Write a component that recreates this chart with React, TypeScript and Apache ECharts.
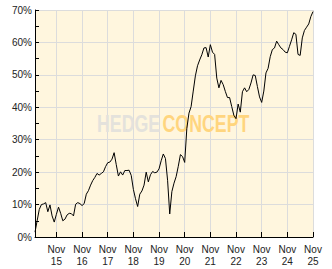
import React, { useEffect, useRef } from "react";
import * as echarts from "echarts";

// Monthly categories, Jan 2015 .. Nov 2025
const startYear = 2015;
const monthCount = 131;
const months: string[] = [];
for (let i = 0; i < monthCount; i++) {
  const y = startYear + Math.floor(i / 12);
  const m = (i % 12) + 1;
  months.push(`${y}-${m < 10 ? "0" + m : m}`);
}

// Cumulative performance in %
const perf: number[] = [
  1.5, 5.0, 8.5, 10.0, 10.2, 10.6, 7.8, 9.9, 6.5, 4.6, 7.0, 9.2,
  7.3, 5.0, 5.5, 6.8, 7.3, 7.2, 6.5, 10.1, 10.6, 10.3, 9.7, 10.3,
  13.2, 14.3, 16.0, 17.4, 18.4, 19.6, 19.1, 19.6, 20.1, 21.7, 22.9, 23.1,
  24.0, 26.0, 22.3, 18.8, 20.1, 19.1, 20.5, 20.5, 20.6, 19.0, 14.7, 11.8,
  9.4, 13.2, 14.2, 16.0, 20.0, 17.0, 19.2, 20.2, 19.8, 20.0, 21.0, 23.5,
  25.6, 24.2, 17.5, 7.1, 14.0, 16.6, 18.6, 21.8, 25.4, 24.8, 23.0, 33.5,
  38.2, 40.2, 45.0, 49.7, 52.8, 54.6, 56.2, 58.3, 58.4, 55.5, 59.3, 57.0,
  56.3, 49.0, 46.0, 48.3, 47.0, 44.9, 43.0, 43.0, 40.2, 37.5, 36.5, 41.0,
  38.5, 44.8, 46.0, 44.8, 45.5, 47.5, 50.0, 49.8, 46.4, 43.2, 41.5, 45.0,
  50.6, 52.0, 55.6, 57.8, 58.3, 60.4, 59.3, 58.3, 57.8, 57.0, 56.8, 58.8,
  60.8, 63.0, 62.5, 56.3, 56.0, 61.4, 63.7, 64.7, 65.7, 68.0, 69.5,
];

const yMin = 0;
const yMax = 70;
const yStep = 10;
const tickMonth = "-11"; // November
const watermarkA = "HEDGE";
const watermarkB = "CONCEPT";

const labelFont = "'Liberation Sans', Arial, sans-serif";

export default function App() {
  const ref = useRef<HTMLDivElement>(null);
  useEffect(() => {
    if (!ref.current) return;
    const chart = echarts.init(ref.current, undefined, { renderer: "svg" });
    const isNov = (_i: number, v: string) => v.endsWith(tickMonth);
    chart.setOption({
      animation: false,
      backgroundColor: "#ffffff",
      grid: {
        left: 35,
        right: 19,
        top: 10,
        bottom: 32,
        show: true,
        backgroundColor: "#FFF6DE",
        borderWidth: 0,
      },
      xAxis: {
        type: "category",
        data: months,
        boundaryGap: false,
        axisLine: { show: true, lineStyle: { color: "#000", width: 1 } },
        axisTick: {
          show: true,
          inside: true,
          length: 5,
          interval: isNov,
          lineStyle: { color: "#000" },
        },
        splitLine: {
          show: true,
          interval: isNov,
          lineStyle: { color: "#DCDCDC", width: 1 },
        },
        axisLabel: {
          interval: isNov,
          formatter: (v: string) => "Nov\n" + v.slice(2, 4),
          fontFamily: labelFont,
          fontSize: 10,
          lineHeight: 12,
          color: "#222",
          margin: 6,
        },
      },
      yAxis: {
        type: "value",
        min: yMin,
        max: yMax,
        interval: yStep,
        axisLine: { show: true, lineStyle: { color: "#000", width: 1 } },
        axisTick: { show: true, inside: true, length: 4, lineStyle: { color: "#000" } },
        minorTick: { show: true, splitNumber: 2, length: 4, lineStyle: { color: "#000" } },
        splitLine: { show: true, lineStyle: { color: "#DCDCDC", width: 1 } },
        axisLabel: {
          formatter: "{value}%",
          fontFamily: labelFont,
          fontSize: 10,
          color: "#222",
          margin: 3,
        },
      },
      graphic: [
        {
          type: "text",
          z: 1,
          x: 97,
          y: 111,
          scaleX: 0.74,
          style: {
            text: watermarkA,
            fontFamily: labelFont,
            fontWeight: "bold",
            fontSize: 24,
            verticalAlign: "top",
            fill: "#E4E2DC",
          },
        },
        {
          type: "text",
          z: 1,
          x: 162.5,
          y: 111,
          scaleX: 0.74,
          style: {
            text: watermarkB,
            fontFamily: labelFont,
            fontWeight: "bold",
            fontSize: 24,
            verticalAlign: "top",
            fill: "#FFD57E",
          },
        },
      ],
      series: [
        {
          type: "line",
          data: perf,
          showSymbol: false,
          symbol: "none",
          z: 5,
          lineStyle: { color: "#000", width: 1 },
        },
      ],
    });
    return () => chart.dispose();
  }, []);
  return (
    <div
      ref={ref}
      style={{ position: "absolute", left: 0, top: 0, width: 332, height: 269 }}
    />
  );
}
